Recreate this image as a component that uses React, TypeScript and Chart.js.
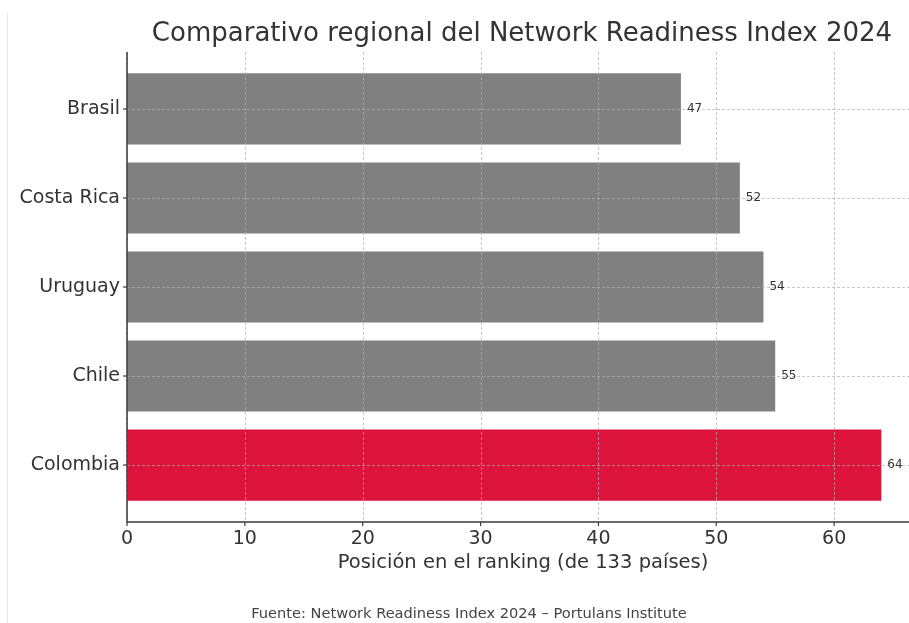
import React, { useEffect, useRef } from 'react';
import { Chart, registerables } from 'chart.js';

Chart.register(...registerables);

const countries = ['Brasil', 'Costa Rica', 'Uruguay', 'Chile', 'Colombia'];
const ranks = [47, 52, 54, 55, 64];
const barColors = ['#808080', '#808080', '#808080', '#808080', '#DC143C'];
const xMax = 67.2;
const xStep = 10;
const titleText = 'Comparativo regional del Network Readiness Index 2024';
const xLabelText = 'Posición en el ranking (de 133 países)';
const sourceText = 'Fuente: Network Readiness Index 2024 – Portulans Institute';

const FONT = '"DejaVu Sans", sans-serif';
const TEXT = '#333333';

const overlay = {
  id: 'overlay',
  afterDatasetsDraw(chart: any) {
    const ctx = chart.ctx;
    const ca = chart.chartArea;
    const xs = chart.scales.x;
    const ys = chart.scales.y;
    ctx.save();
    // grid on top of bars
    ctx.strokeStyle = 'rgba(176,176,176,0.7)';
    ctx.lineWidth = 1;
    ctx.setLineDash([3, 2]);
    xs.ticks.forEach((t: any) => {
      const px = Math.round(xs.getPixelForValue(t.value)) + 0.5;
      ctx.beginPath();
      ctx.moveTo(px, ca.top);
      ctx.lineTo(px, ca.bottom);
      ctx.stroke();
    });
    ys.ticks.forEach((t: any) => {
      const py = Math.round(ys.getPixelForValue(t.value)) + 0.5;
      ctx.beginPath();
      ctx.moveTo(ca.left, py);
      ctx.lineTo(ca.right, py);
      ctx.stroke();
    });
    ctx.setLineDash([]);
    // spines
    ctx.strokeStyle = '#3a3a3a';
    ctx.lineWidth = 1.5;
    ctx.beginPath();
    ctx.moveTo(ca.left, ca.top);
    ctx.lineTo(ca.left, ca.bottom);
    ctx.lineTo(ca.right, ca.bottom);
    ctx.stroke();
    // tick marks
    ctx.lineWidth = 1.2;
    xs.ticks.forEach((t: any) => {
      const px = xs.getPixelForValue(t.value);
      ctx.beginPath();
      ctx.moveTo(px, ca.bottom);
      ctx.lineTo(px, ca.bottom + 4);
      ctx.stroke();
    });
    ys.ticks.forEach((t: any) => {
      const py = ys.getPixelForValue(t.value);
      ctx.beginPath();
      ctx.moveTo(ca.left, py);
      ctx.lineTo(ca.left - 4, py);
      ctx.stroke();
    });
    // value labels
    const meta = chart.getDatasetMeta(0);
    ctx.fillStyle = TEXT;
    ctx.font = `12px ${FONT}`;
    ctx.textAlign = 'left';
    ctx.textBaseline = 'middle';
    meta.data.forEach((el: any, i: number) => {
      ctx.fillText(String(ranks[i]), el.x + 6, el.y);
    });
    // title
    ctx.font = `26px ${FONT}`;
    ctx.textAlign = 'center';
    ctx.fillText(titleText, 522, 34);
    // x label
    ctx.font = `19.5px ${FONT}`;
    ctx.fillText(xLabelText, 523, 563);
    // source
    ctx.fillStyle = '#444444';
    ctx.font = `14.6px ${FONT}`;
    ctx.fillText(sourceText, 469, 614);
    // faint border line
    ctx.strokeStyle = '#e6e6e6';
    ctx.lineWidth = 1;
    ctx.beginPath();
    ctx.moveTo(7.5, 13);
    ctx.lineTo(7.5, 623);
    ctx.stroke();
    ctx.restore();
  },
};

export default function App() {
  const ref = useRef<HTMLCanvasElement>(null);
  useEffect(() => {
    if (!ref.current) return;
    const chart = new Chart(ref.current, {
      type: 'bar',
      data: {
        datasets: [
          {
            data: ranks.map((v, i) => ({ x: v, y: i })) as any,
            backgroundColor: barColors,
            barPercentage: 1,
            categoryPercentage: 0.8,
          },
        ],
      },
      options: {
        indexAxis: 'y',
        responsive: false,
        animation: false,
        layout: { padding: { top: 52, left: 0, right: 0, bottom: 0 } },
        plugins: { legend: { display: false }, tooltip: { enabled: false } },
        scales: {
          x: {
            type: 'linear',
            min: 0,
            max: xMax,
            position: 'bottom',
            offset: false,
            ticks: {
              stepSize: xStep,
              includeBounds: false,
              font: { family: FONT, size: 19 },
              color: TEXT,
              padding: 6,
            },
            grid: { display: false, drawTicks: false, offset: false },
            border: { display: false },
            afterFit: (s: any) => {
              s.height = 101;
            },
          },
          y: {
            type: 'linear',
            min: -0.64,
            max: 4.64,
            reverse: true,
            offset: false,
            afterBuildTicks: (ax: any) => {
              ax.ticks = countries.map((_, i) => ({ value: i }));
            },
            ticks: {
              callback: (v: any) => countries[v as number],
              font: { family: FONT, size: 19 },
              color: TEXT,
              padding: 7,
            },
            grid: { display: false, drawTicks: false, offset: false },
            border: { display: false },
            afterFit: (s: any) => {
              s.width = 127;
            },
          },
        },
      },
      plugins: [overlay],
    });
    return () => chart.destroy();
  }, []);
  return (
    <div
      style={{
        position: 'fixed',
        left: 0,
        top: 0,
        width: 909,
        height: 623,
        overflow: 'hidden',
        background: '#ffffff',
      }}
    >
      <canvas ref={ref} width={919} height={623} style={{ display: 'block' }} />
    </div>
  );
}
